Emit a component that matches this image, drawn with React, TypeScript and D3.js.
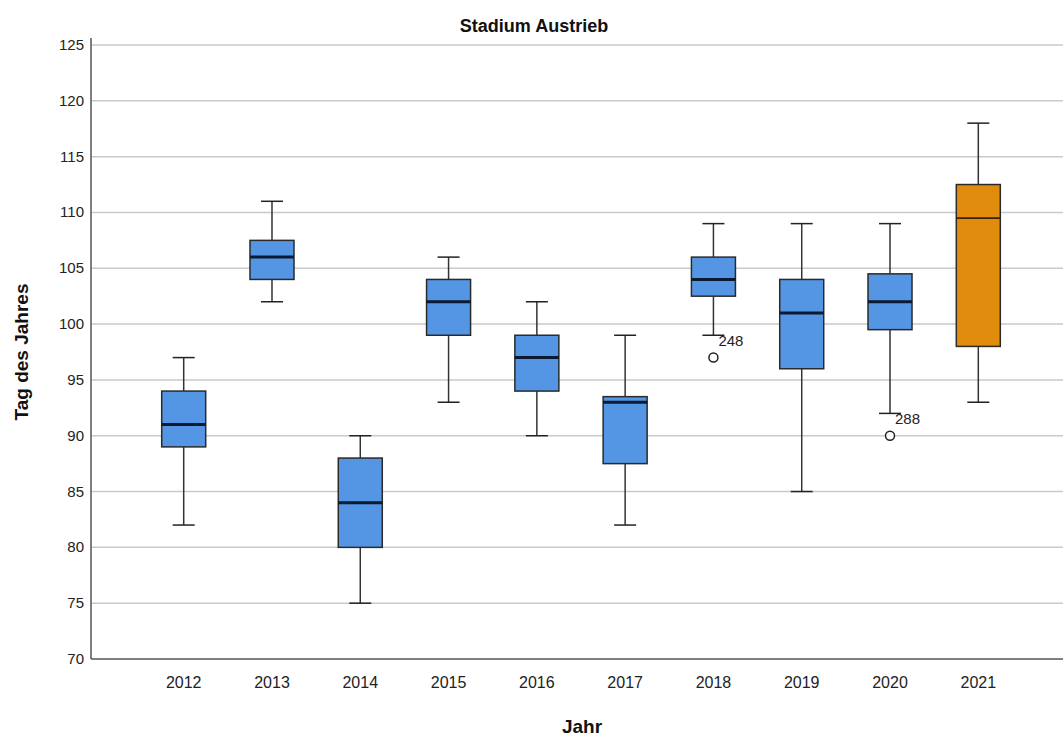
import React from 'react';
import * as d3 from 'd3';

const years = ['2012', '2013', '2014', '2015', '2016', '2017', '2018', '2019', '2020', '2021'];
const mins = [82, 102, 75, 93, 90, 82, 99, 85, 92, 93];
const q1s = [89, 104, 80, 99, 94, 87.5, 102.5, 96, 99.5, 98];
const medians = [91, 106, 84, 102, 97, 93, 104, 101, 102, 109.5];
const q3s = [94, 107.5, 88, 104, 99, 93.5, 106, 104, 104.5, 112.5];
const maxs = [97, 111, 90, 106, 102, 99, 109, 109, 109, 118];
const outliers = [
  { year: '2018', value: 97, label: '248' },
  { year: '2020', value: 90, label: '288' },
];
const highlightYear = '2021';
const yTicks = [70, 75, 80, 85, 90, 95, 100, 105, 110, 115, 120, 125];

const W = 1063;
const H = 736;
const left = 91;
const top = 45;
const bottom = 659;

const App = () => {
  const x = d3.scalePoint<string>().domain(years).range([left, 1071]).padding(1.05);
  const y = d3.scaleLinear().domain([70, 125]).range([bottom, top]);
  const boxW = 44;
  const capW = 22;
  const font = '"Liberation Sans", Arial, sans-serif';

  return (
    <svg width={W} height={H} style={{ position: 'absolute', left: 0, top: 0, background: '#fff' }} fontFamily={font}>
      <text x={534} y={32} textAnchor="middle" fontSize={18} fontWeight="bold" fill="#111">Stadium Austrieb</text>

      {yTicks.map(t => (
        <g key={t}>
          {t > 70 && <line x1={left} x2={W} y1={y(t)} y2={y(t)} stroke="#c9c9c9" strokeWidth={1.5} />}
          <text x={84} y={y(t) + 5} textAnchor="end" fontSize={15} fill="#222">{t}</text>
        </g>
      ))}

      <line x1={left} x2={left} y1={38} y2={bottom} stroke="#555" strokeWidth={1.5} />
      <line x1={left} x2={W} y1={bottom} y2={bottom} stroke="#555" strokeWidth={1.5} />

      {years.map((yr, i) => {
        const cx = x(yr) as number;
        const hi = yr === highlightYear;
        const fill = hi ? '#e08b0c' : '#5596e4';
        return (
          <g key={yr}>
            <line x1={cx} x2={cx} y1={y(maxs[i])} y2={y(q3s[i])} stroke="#333" strokeWidth={1.5} />
            <line x1={cx} x2={cx} y1={y(q1s[i])} y2={y(mins[i])} stroke="#333" strokeWidth={1.5} />
            <line x1={cx - capW / 2} x2={cx + capW / 2} y1={y(maxs[i])} y2={y(maxs[i])} stroke="#222" strokeWidth={1.5} />
            <line x1={cx - capW / 2} x2={cx + capW / 2} y1={y(mins[i])} y2={y(mins[i])} stroke="#222" strokeWidth={1.5} />
            <rect x={cx - boxW / 2} y={y(q3s[i])} width={boxW} height={y(q1s[i]) - y(q3s[i])} fill={fill} stroke="#2a2a2a" strokeWidth={1.5} />
            <line x1={cx - boxW / 2} x2={cx + boxW / 2} y1={y(medians[i])} y2={y(medians[i])}
              stroke={hi ? '#3a2200' : '#0b1a33'} strokeWidth={hi ? 1.8 : 3} />
            <text x={cx} y={688} textAnchor="middle" fontSize={16} fill="#222">{yr}</text>
          </g>
        );
      })}

      {outliers.map(o => {
        const cx = x(o.year) as number;
        return (
          <g key={o.label}>
            <circle cx={cx} cy={y(o.value)} r={4.5} fill="#fff" stroke="#222" strokeWidth={1.5} />
            <text x={cx + 5} y={y(o.value) - 12} fontSize={15} fill="#222">{o.label}</text>
          </g>
        );
      })}

      <text transform={`translate(28, ${(top + bottom) / 2}) rotate(-90)`} textAnchor="middle" fontSize={19} fontWeight="bold" fill="#111">Tag des Jahres</text>
      <text x={582} y={733} textAnchor="middle" fontSize={19} fontWeight="bold" fill="#111">Jahr</text>
    </svg>
  );
};

export default App;
